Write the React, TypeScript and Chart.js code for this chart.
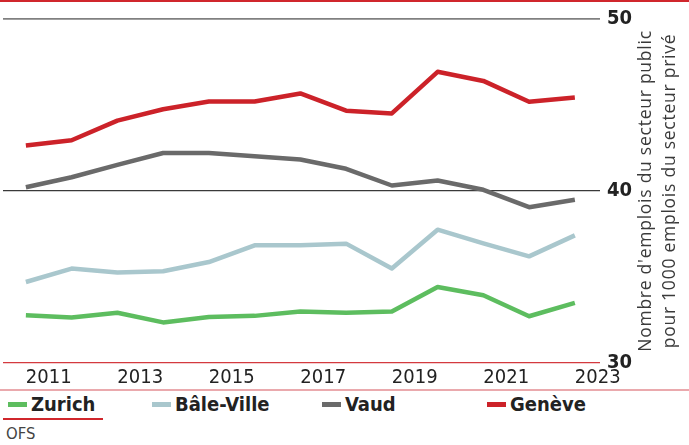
import React, { useEffect, useRef } from "react";
import { Chart, registerables } from "chart.js";

Chart.register(...registerables);

const years = [2010, 2011, 2012, 2013, 2014, 2015, 2016, 2017, 2018, 2019, 2020, 2021, 2022];
const zurich = [32.78, 32.65, 32.92, 32.36, 32.68, 32.74, 33.0, 32.92, 33.0, 34.42, 33.94, 32.72, 33.5];
const baleVille = [34.71, 35.49, 35.26, 35.33, 35.87, 36.84, 36.84, 36.94, 35.49, 37.75, 36.96, 36.2, 37.42];
const vaud = [40.22, 40.8, 41.52, 42.21, 42.21, 42.02, 41.83, 41.29, 40.32, 40.61, 40.07, 39.06, 39.49];
const geneve = [42.64, 42.95, 44.09, 44.75, 45.2, 45.2, 45.67, 44.67, 44.51, 46.93, 46.4, 45.19, 45.44];
const xTickLabels = [2011, 2013, 2015, 2017, 2019, 2021, 2023];
const yTickLabels = [30, 40, 50];
const seriesNames = ["Zurich", "Bâle-Ville", "Vaud", "Genève"];
const seriesColors = ["#5dbd5f", "#a9c7cd", "#6a6a6a", "#cc2229"];
const axisTitle = ["Nombre d'emplois du secteur public", "pour 1000 emplois du secteur privé"];
const source = "OFS";

const COND = "'DejaVu Sans Condensed', 'Liberation Sans Narrow', 'DejaVu Sans', sans-serif";

const decorPlugin = {
  id: "decor",
  afterDraw(chart: any) {
    const { ctx, width } = chart;
    ctx.save();
    ctx.strokeStyle = "#d0262c";
    ctx.lineWidth = 2;
    ctx.beginPath();
    ctx.moveTo(0, 1);
    ctx.lineTo(width, 1);
    ctx.stroke();
    ctx.strokeStyle = "#e38c92";
    ctx.lineWidth = 1.5;
    ctx.beginPath();
    ctx.moveTo(0, 390);
    ctx.lineTo(width, 390);
    ctx.stroke();
    ctx.fillStyle = "#3a3a3a";
    ctx.font = "17.5px 'Open Sans', 'Noto Sans', sans-serif";
    (ctx as any).letterSpacing = "0.75px";
    ctx.textAlign = "center";
    ctx.textBaseline = "alphabetic";
    ctx.translate(662, 191);
    ctx.rotate(-Math.PI / 2);
    ctx.fillText(axisTitle[0], 0, -11);
    ctx.fillText(axisTitle[1], 0, 13);
    ctx.restore();
  },
};

export default function App() {
  const ref = useRef<HTMLCanvasElement>(null);
  useEffect(() => {
    document.body.style.margin = "0";
    const datasets = [zurich, baleVille, vaud, geneve].map((vals, i) => ({
      label: seriesNames[i],
      data: vals.map((v, j) => ({ x: years[j] + 0.5, y: v })),
      borderColor: seriesColors[i],
      backgroundColor: seriesColors[i],
      borderWidth: 4.5,
      pointRadius: 0,
      tension: 0,
      borderJoinStyle: "round" as const,
    }));
    const chart = new Chart(ref.current!, {
      type: "line",
      data: { datasets: [...datasets].reverse() },
      plugins: [decorPlugin],
      options: {
        animation: false,
        responsive: false,
        layout: { padding: { top: 18, left: 3, right: 0, bottom: 0 } },
        plugins: { legend: { display: false }, tooltip: { enabled: false } },
        scales: {
          x: {
            type: "linear",
            min: 2010,
            max: 2023.05,
            afterBuildTicks(scale: any) {
              scale.ticks = xTickLabels.map((v) => ({ value: v }));
            },
            afterFit(scale: any) {
              scale.height = 29;
            },
            grid: { display: false, drawTicks: false },
            border: { display: false },
            ticks: {
              padding: 3,
              maxRotation: 0,
              autoSkip: false,
              color: "#222",
              font: { family: COND, size: 20 },
              callback: (v: any) => String(v),
            },
          },
          y: {
            position: "right",
            min: 30,
            max: 50,
            afterBuildTicks(scale: any) {
              scale.ticks = yTickLabels.map((v) => ({ value: v }));
            },
            afterFit(scale: any) {
              scale.width = 89;
            },
            border: { display: false },
            grid: {
              drawTicks: false,
              color: (c: any) => (c.tick.value === 30 ? "#d43a3f" : c.tick.value === 40 ? "#3a3a3a" : "#808080"),
              lineWidth: (c: any) => (c.tick.value === 50 ? 1.8 : 1.2),
            },
            ticks: {
              padding: 7,
              color: "#222",
              font: { family: COND, size: 20, weight: "bold" },
              callback: (v: any) => String(v),
            },
          },
        },
      },
    });
    return () => chart.destroy();
  }, []);

  const legendX = [8, 152, 322, 487];
  return (
    <div style={{ position: "relative", width: 689, height: 445, background: "#fff", overflow: "hidden" }}>
      <canvas ref={ref} width={689} height={392} style={{ position: "absolute", left: 0, top: 0 }} />
      {seriesNames.map((n, i) => (
        <div
          key={n}
          style={{
            position: "absolute",
            left: legendX[i],
            top: 392,
            height: 24,
            display: "flex",
            alignItems: "center",
            fontFamily: COND,
            fontWeight: "bold",
            fontSize: 20,
            color: "#222",
          }}
        >
          <span style={{ display: "inline-block", width: 19, height: 5, background: seriesColors[i], marginRight: 4 }} />
          {n}
        </div>
      ))}
      <div style={{ position: "absolute", left: 3, top: 418, width: 100, height: 1.5, background: "#d0262c" }} />
      <div
        style={{
          position: "absolute",
          left: 6,
          top: 424,
          fontFamily: COND,
          fontSize: 16.5,
          lineHeight: "20px",
          color: "#444",
        }}
      >
        {source}
      </div>
    </div>
  );
}
